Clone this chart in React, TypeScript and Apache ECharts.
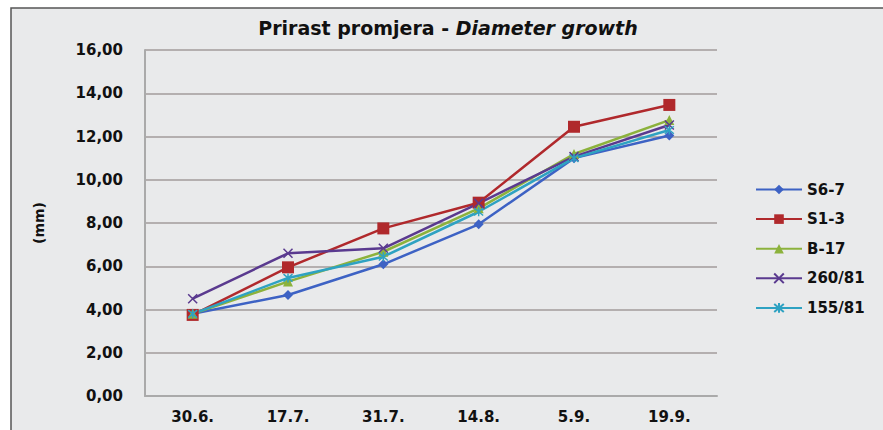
import React, { useEffect, useRef } from "react";
import * as echarts from "echarts";

const categories = ["30.6.", "17.7.", "31.7.", "14.8.", "5.9.", "19.9."];
const seriesNames = ["S6-7", "S1-3", "B-17", "260/81", "155/81"];
const s67 = [3.8, 4.67, 6.09, 7.94, 11.0, 12.05];
const s13 = [3.75, 5.95, 7.75, 8.94, 12.45, 13.46];
const b17 = [3.8, 5.29, 6.67, 8.68, 11.19, 12.76];
const p26081 = [4.5, 6.6, 6.83, 8.91, 11.07, 12.53];
const p15581 = [3.8, 5.46, 6.44, 8.52, 11.0, 12.3];
const yTicks = [0, 2, 4, 6, 8, 10, 12, 14, 16];

const FONT = "'DejaVu Sans', sans-serif";

export default function App() {
  const ref = useRef<HTMLDivElement>(null);
  useEffect(() => {
    if (!ref.current) return;
    const chart = echarts.init(ref.current, null, { renderer: "svg" });
    const xPath = "path://M0,0L10,10M10,0L0,10";
    const starPath = "path://M0,0L10,10M10,0L0,10M5,-1L5,11";
    const mk = (name: string, data: number[], color: string, symbol: string, size: number, stroke: boolean) => ({
      name,
      type: "line",
      data,
      symbol,
      symbolSize: size,
      showSymbol: true,
      lineStyle: { color, width: 2.5 },
      itemStyle: stroke
        ? { color: "none", borderColor: color, borderWidth: 1.5 }
        : { color, borderColor: color, borderWidth: 0 },
      z: 3,
    });
    chart.setOption({
      animation: false,
      backgroundColor: "transparent",
      title: {
        text: "{n|Prirast promjera - }{i|Diameter growth}",
        left: 443,
        top: 13,
        textAlign: "center",
        textStyle: {
          rich: {
            n: { fontFamily: FONT, fontSize: 19, color: "#111", fontWeight: "bold" },
            i: { fontFamily: FONT, fontSize: 19, color: "#111", fontWeight: "bold", fontStyle: "italic" },
          },
        },
      },
      graphic: [
        {
          type: "rect",
          shape: { x: 11, y: 8, width: 900, height: 440 },
          style: { fill: "#e9eaeb", stroke: "#555", lineWidth: 1.5 },
          z: -10,
          silent: true,
        },
      ],
      legend: {
        orient: "vertical",
        left: 750,
        top: 177,
        itemWidth: 46,
        itemHeight: 12,
        itemGap: 14.6,
        data: seriesNames,
        textStyle: { fontFamily: FONT, fontSize: 15, fontWeight: "bold", color: "#111" },
      },
      grid: { left: 145, right: 166, top: 50, bottom: 34 },
      xAxis: {
        type: "category",
        data: categories,
        boundaryGap: true,
        axisLine: { show: true, lineStyle: { color: "#aaa", width: 2 } },
        axisTick: { show: false },
        axisLabel: { fontFamily: FONT, fontSize: 15, fontWeight: "bold", color: "#111", margin: 13 },
      },
      yAxis: {
        type: "value",
        min: yTicks[0],
        max: yTicks[yTicks.length - 1],
        interval: 2,
        name: "(mm)",
        nameLocation: "middle",
        nameGap: 99,
        nameRotate: 90,
        nameTextStyle: { fontFamily: FONT, fontSize: 14, fontWeight: "bold", color: "#111" },
        axisLine: { show: true, lineStyle: { color: "#aaa", width: 2 } },
        axisTick: { show: false },
        splitLine: { lineStyle: { color: "#b4afaf", width: 2 } },
        axisLabel: {
          fontFamily: FONT,
          fontSize: 15,
          fontWeight: "bold",
          color: "#111",
          margin: 22,
          formatter: (v: number) => v.toFixed(2).replace(".", ","),
        },
      },
      series: [
        mk("S6-7", s67, "#3d62c4", "diamond", 10, false),
        mk("S1-3", s13, "#b0292c", "rect", 12, false),
        mk("B-17", b17, "#8cb23c", "triangle", 10, false),
        mk("260/81", p26081, "#5a3a8f", xPath, 9, true),
        mk("155/81", p15581, "#2ea2c2", starPath, 9, true),
      ],
    });
    return () => chart.dispose();
  }, []);
  return (
    <div
      ref={ref}
      style={{ position: "absolute", left: 0, top: 0, width: 883, height: 430, background: "#fff" }}
    />
  );
}
